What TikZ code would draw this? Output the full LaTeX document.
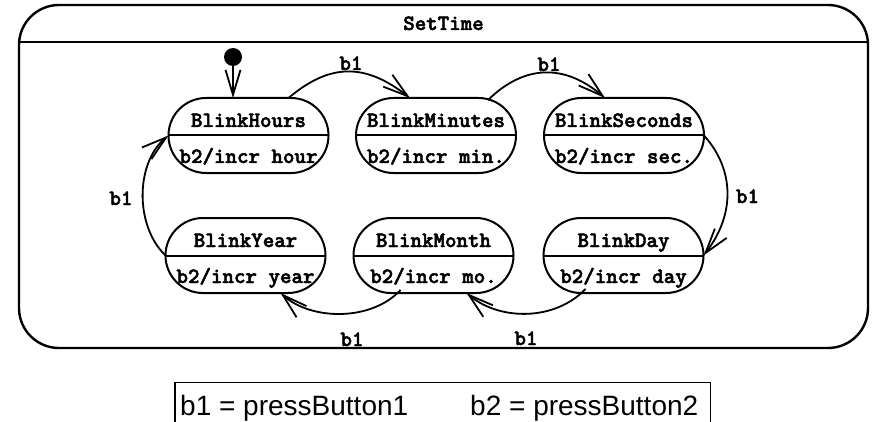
\documentclass[tikz,border=0pt]{standalone}
\usepackage{fontspec}
\setmainfont{Liberation Sans}
\newfontfamily\statefont{lmmonolt10-bold.otf}[FakeBold=2.2]
\usetikzlibrary{arrows.meta}

% A state: stadium outline, divider, name above and action below
\newcommand\blinkstate[5]{%
  \node[stadium] (#1) at (#2,#3) {};
  \draw[divider] (#1.west) -- (#1.east);
  \node[statetext] (#1-name) at ([yshift=8.5pt]#1.center) {#4};
  \node[statetext] (#1-act) at ([yshift=-27.5pt]#1.center) {#5};
}

\begin{document}
\begin{tikzpicture}[x=1pt,y=1pt,
  outerbox/.style={draw, line width=2.4pt, rounded corners=40pt,
    minimum width=849pt, minimum height=343pt, inner sep=0pt, outer sep=0pt},
  stadium/.style={draw, line width=2pt, rounded corners=37.5pt,
    minimum width=160pt, minimum height=75pt, inner sep=0pt, outer sep=0pt},
  divider/.style={line width=2pt},
  statetext/.style={font=\statefont\fontsize{21.9}{24}\selectfont,
    inner sep=0pt, anchor=base},
  trans/.style={line width=1.8pt, -{Straight Barb[length=25pt,width=15pt]}},
  initdot/.style={circle, fill=black, minimum size=18pt, inner sep=0pt},
  legendtext/.style={font=\fontsize{28}{32}\selectfont, inner sep=0pt,
    anchor=base west, text height=32pt, text depth=7pt},
]
\useasboundingbox (0,0) rectangle (874,-422);

% composite state
\node[outerbox] (settime) at (443.5,-176.5) {};
\draw[divider] (settime.west |- 0,-42) -- (settime.east |- 0,-42);
\node[statetext] (title) at (443.5,-30) {SetTime};

% states
\blinkstate{hours}{248.5}{-135.5}{BlinkHours}{b2/incr hour}
\blinkstate{minutes}{436}{-135.5}{BlinkMinutes}{b2/incr min.}
\blinkstate{seconds}{624}{-135.5}{BlinkSeconds}{b2/incr sec.}
\blinkstate{year}{245.5}{-255.5}{BlinkYear}{b2/incr year}
\blinkstate{month}{433.5}{-255.5}{BlinkMonth}{b2/incr mo.}
\blinkstate{day}{623.5}{-255.5}{BlinkDay}{b2/incr day}

% initial pseudo-state
\node[initdot] (init) at (233,-57) {};
\draw[trans] (init) -- (init |- hours.north);

% transitions on b1
\draw[trans] ([xshift=40pt]hours.north) .. controls (330,-63) and (365,-63) .. ([xshift=-26pt]minutes.north);
\node[statetext] (l1) at (351,-70) {b1};

\draw[trans] ([xshift=52pt,yshift=-2pt]minutes.north) .. controls (525,-64) and (565,-64) .. ([xshift=-19pt]seconds.north);
\node[statetext] (l2) at (549,-71) {b1};

\draw[trans] (seconds.east) .. controls (735,-170) and (735,-215) .. (day.east);
\node[statetext] (l3) at (747.5,-203) {b1};

\draw[trans] ([xshift=-38pt,yshift=4pt]day.south) .. controls (555,-321) and (500,-321) .. ([xshift=33pt]month.south);
\node[statetext] (l4) at (526,-345) {b1};

\draw[trans] ([xshift=-33pt,yshift=3pt]month.south) .. controls (372,-321) and (312,-321) .. ([xshift=35pt]year.south);
\node[statetext] (l5) at (352,-346) {b1};

\draw[trans] (year.west) .. controls (134,-225) and (136,-162) .. (hours.west);
\node[statetext] (l6) at (121,-205) {b1};

% legend
\node[legendtext] (legend) at (180,-415) {b1 = pressButton1\hspace{62pt}b2 = pressButton2};
\draw[line width=1.2pt] ([xshift=-5pt]legend.south west) -- ([xshift=-5pt]legend.north west)
  -- ([xshift=12pt]legend.north east) -- ([xshift=12pt]legend.south east);
\end{tikzpicture}
\end{document}
